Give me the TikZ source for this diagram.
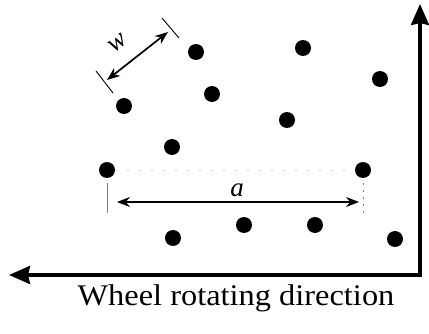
\documentclass[tikz,border=0pt]{standalone}
\usepackage{fontspec}
\setmainfont{Liberation Serif}
\usetikzlibrary{arrows.meta}
\begin{document}
\begin{tikzpicture}[x=1pt,y=-1pt,
  dot/.style={circle,fill=black,inner sep=0pt,minimum size=16pt},
  axis/.style={line width=3.5pt,-{Stealth[length=21pt,width=18pt,inset=2pt]}},
  dim/.style={line width=1.7pt,{Stealth[length=13pt,width=10pt]}-{Stealth[length=13pt,width=10pt]}},
  tick/.style={line width=0.9pt},
  faint/.style={line width=0.5pt,gray!35,dash pattern=on 2pt off 10pt},
  lbl/.style={font=\fontsize{27}{30}\selectfont\itshape,inner sep=0pt}]
\useasboundingbox (0,0) rectangle (429,334);
% dots
\node[dot] (d1) at (196,52) {};
\node[dot] (d2) at (303,48) {};
\node[dot] (d3) at (380,79) {};
\node[dot] (d4) at (212,94) {};
\node[dot] (d5) at (124,106) {};
\node[dot] (d6) at (287,120) {};
\node[dot] (d7) at (172,147) {};
\node[dot] (d8) at (107,170) {};
\node[dot] (d9) at (363,170) {};
\node[dot] (d10) at (244,225) {};
\node[dot] (d11) at (315,225) {};
\node[dot] (d12) at (173,238) {};
\node[dot] (d13) at (395,239) {};
% axes
\coordinate (corner) at (420,275);
\coordinate (top) at (420,4);
\coordinate (left) at (9,275);
\draw[axis] ([yshift=1.75pt]corner) -- (top);
\draw[axis] ([xshift=1.75pt]corner) -- (left);
% w dimension
\coordinate (t1a) at (162,18); \coordinate (t1b) at (179,38);
\coordinate (t2a) at (96,71);  \coordinate (t2b) at (113,93);
\draw[tick] (t1a) -- (t1b);
\draw[tick] (t2a) -- (t2b);
\coordinate (wA) at (107,80); \coordinate (wB) at (168,32);
\draw[dim] (wA) -- (wB);
\node[lbl,rotate=38] (w) at (118,43) {w};
% a dimension
\draw[faint] (d8) -- (d9);
\coordinate (aA) at (117,202); \coordinate (aB) at (359,202);
\draw[dim] (aA) -- (aB);
\coordinate (la1) at (107,183); \coordinate (la2) at (107,213);
\coordinate (ra1) at (363,183); \coordinate (ra2) at (363,213);
\draw[line width=0.7pt,gray] (la1) -- (la2);
\draw[line width=0.8pt,gray,dash pattern=on 2pt off 5pt] (ra1) -- (ra2);
\node[lbl,anchor=base] (a) at (237,196.5) {a};
% caption
\node[inner sep=0pt,anchor=base,font=\fontsize{30}{34}\selectfont,xscale=1.08,transform shape] (cap) at (236,305.5) {Wheel rotating direction};
\end{tikzpicture}
\end{document}
